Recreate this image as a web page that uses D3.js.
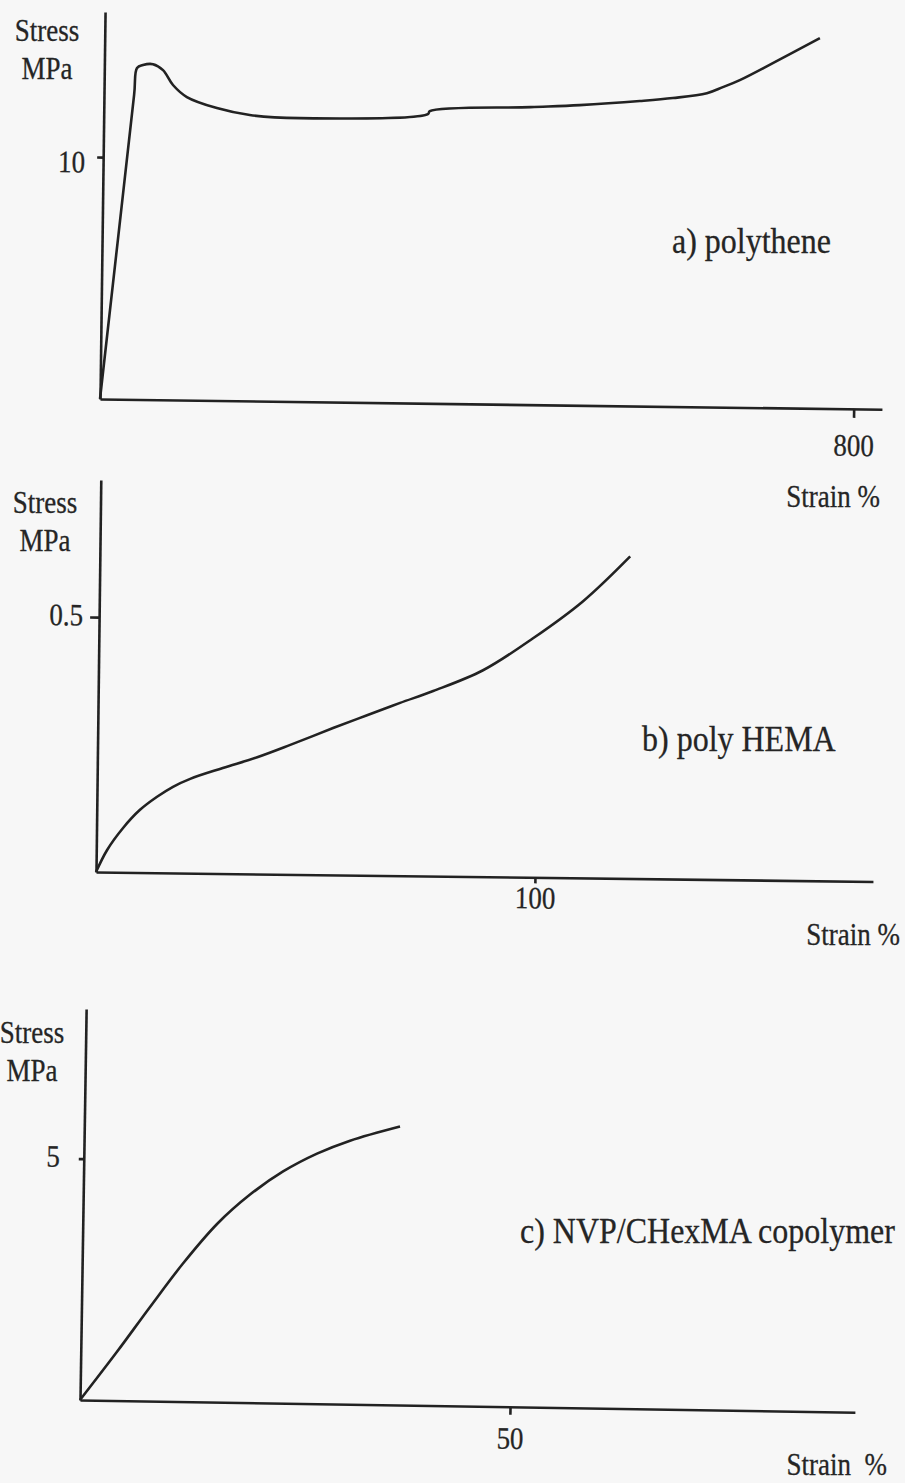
<!DOCTYPE html>
<html>
<head>
<meta charset="utf-8">
<script src="https://cdn.jsdelivr.net/npm/d3@7/dist/d3.min.js"></script>
<style>
  body { margin: 0; background: #f7f7f7; }
  svg text { font-family: "Liberation Serif", "Times New Roman", serif; fill: #252525; stroke: #252525; stroke-width: 0.25; }
  .axis path, .axis line { stroke: #222; stroke-width: 2.6; }
  .curve { fill: none; stroke: #222; stroke-width: 2.6; }
</style>
</head>
<body>
<script>
//=================================================
// data
//=================================================
// a) polythene
var strainA = [0, 32, 34.7, 41, 51.6, 62.3, 73.1, 88, 120, 155, 208, 344, 346, 453, 505, 568.8, 603.8, 639.8, 656.7, 674.6, 709.4, 759];
var stressA = [0, 12.6, 13.7, 13.83, 13.87, 13.63, 13.02, 12.53, 12.09, 11.82, 11.72, 11.95, 12.08, 12.3, 12.41, 12.61, 12.75, 12.97, 13.23, 13.53, 14.25, 15.31];

// b) poly HEMA
var strainB = [0, 2.44, 6.04, 9.85, 13.7, 17.3, 21.2, 28.6, 36.4, 43.9, 53.6, 61.3, 68.8, 76.3, 87.6, 98.9, 110.2, 120.8];
var stressB = [0, 0.043, 0.087, 0.123, 0.149, 0.169, 0.185, 0.207, 0.229, 0.254, 0.288, 0.314, 0.339, 0.363, 0.405, 0.469, 0.543, 0.632];

// c) NVP/CHexMA copolymer
var strainC = [0, 4.21, 7.97, 11.72, 15.61, 19.39, 23.19, 27.1, 30.92, 36.7];
var stressC = [0, 1.01, 1.95, 2.86, 3.69, 4.31, 4.8, 5.18, 5.46, 5.77];

// tick values and labels
var xTicks = [800, 100, 50];
var yTicks = [10, 0.5, 5];
var panelLabels = ["a) polythene", "b) poly HEMA", "c) NVP/CHexMA copolymer"];
var xTitles = ["Strain %", "Strain %", "Strain  %"];
var yTitles = ["Stress", "MPa"];

var width = 905, height = 1483;
var stretch = 1.15;   // scanned type is a bit taller than it is wide

var svg = d3.select("body")
    .append("svg")
    .attr("width", width)
    .attr("height", height);

// place a text at x,y with the vertical stretch of the scan
function place(sel, x, y) {
    sel.attr("x", null).attr("y", null).attr("dy", null)
        .attr("transform", "translate(" + x + "," + y + ") scale(1," + stretch + ")");
}

function addText(x, y, size, anchor, str) {
    svg.append("text")
        .attr("font-size", size)
        .attr("text-anchor", anchor)
        .style("white-space", "pre")
        .call(place, x, y)
        .text(str);
}

// the scan is slightly tilted, so each panel is drawn in a rotated group
var panels = [
    { strain: strainA, stress: stressA, xMax: 830, yMax: 16.0, ox: 100, oy: 399, w: 782, h: 387, rot: 0.75,
      xTickLen: 9, yTickLen: 6, xLabY: 47, yLabX: -18, yLabY: 15,
      labX: 672, labY: 253, titleX: 880, titleY: 507, stressX: 47, stressY: 41 },
    { strain: strainB, stress: stressB, xMax: 177, yMax: 0.769, ox: 96, oy: 872, w: 777, h: 392, rot: 0.7,
      xTickLen: 6, yTickLen: 9, xLabY: 31, yLabX: -16, yLabY: 8,
      labX: 642, labY: 751, titleX: 900, titleY: 945, stressX: 45, stressY: 513 },
    { strain: strainC, stress: stressC, xMax: 90.1, yMax: 8.1, ox: 80, oy: 1400, w: 775, h: 391, rot: 0.9,
      xTickLen: 8, yTickLen: 5, xLabY: 42, yLabX: -24, yLabY: 8,
      labX: 520, labY: 1243, titleX: 887, titleY: 1475, stressX: 32, stressY: 1043 }
];

panels.forEach(function (p, i) {
    var x = d3.scaleLinear().domain([0, p.xMax]).range([0, p.w]);
    var y = d3.scaleLinear().domain([0, p.yMax]).range([0, -p.h]);

    var g = svg.append("g")
        .attr("transform", "translate(" + p.ox + "," + p.oy + ") rotate(" + p.rot + ")");

    // x axis
    var xAxis = g.append("g")
        .attr("class", "axis")
        .call(d3.axisBottom(x)
            .tickValues([xTicks[i]])
            .tickSizeInner(p.xTickLen)
            .tickSizeOuter(0));
    xAxis.selectAll("text")
        .attr("font-size", 27)
        .call(place, 0, p.xLabY);

    // y axis
    var yAxis = g.append("g")
        .attr("class", "axis")
        .call(d3.axisLeft(y)
            .tickValues([yTicks[i]])
            .tickSizeInner(p.yTickLen)
            .tickSizeOuter(0));
    yAxis.selectAll("text")
        .attr("font-size", 27)
        .call(place, p.yLabX, p.yLabY);
    g.selectAll(".axis").attr("font-family", null);

    // curve
    var line = d3.line()
        .x(function (d) { return x(d[0]); })
        .y(function (d) { return y(d[1]); })
        .curve(d3.curveCatmullRom.alpha(0.5));

    g.append("path")
        .attr("class", "curve")
        .datum(d3.zip(p.strain, p.stress))
        .attr("d", line);

    // axis titles and panel label
    addText(p.stressX, p.stressY, 27, "middle", yTitles[0]);
    addText(p.stressX, p.stressY + 38, 27, "middle", yTitles[1]);
    addText(p.titleX, p.titleY, 27, "end", xTitles[i]);
    addText(p.labX, p.labY, 32, "start", panelLabels[i]);
});
</script>
</body>
</html>
